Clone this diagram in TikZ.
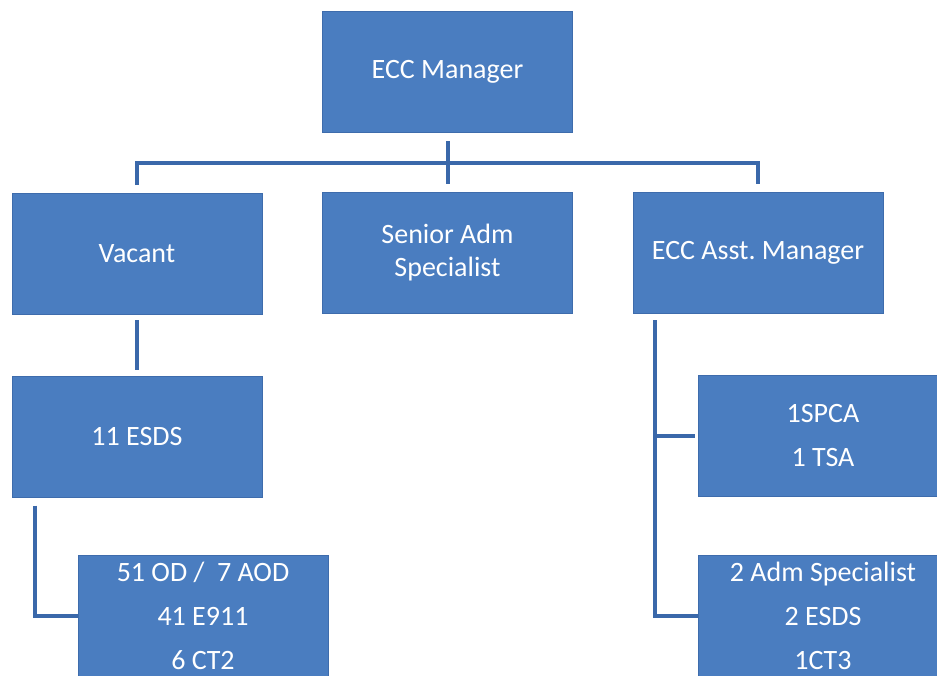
\documentclass[tikz,border=0pt]{standalone}
\usepackage{fontspec}
\setmainfont{Carlito}
\definecolor{boxblue}{RGB}{74,125,192}
\definecolor{boxedge}{RGB}{62,108,172}
\definecolor{linkblue}{RGB}{58,104,170}
\tikzset{
  post/.style={draw=boxedge, line width=1pt, fill=boxblue, text=white,
    minimum width=250pt, minimum height=121pt, inner sep=0pt, align=center,
    font=\fontsize{28}{33}\selectfont},
  widepost/.style={post, font=\fontsize{28}{44}\selectfont},
  link/.style={draw=linkblue, line width=4pt}
}
\begin{document}
\begin{tikzpicture}[x=1pt,y=-1pt]
  \useasboundingbox (0,0) rectangle (937,675);
  \clip (0,0) rectangle (937,675);
  % boxes
  \node[post] (mgr) at (447.5,72) {ECC Manager};
  \node[post] (vac) at (137,254) {Vacant};
  \node[post] (spec) at (447.5,253) {Senior Adm\\Specialist};
  \node[post] (asst) at (758,253) {ECC Asst.\ Manager};
  \node[post] (esds) at (137,436.5) {11 ESDS};
  \node[widepost] (od) at (203,616) {51 OD /\ \ 7 AOD\\41 E911\\6 CT2};
  \node[widepost] (spca) at (823,436) {1SPCA\\1 TSA};
  \node[widepost] (adm) at (823,616) {2 Adm Specialist\\2 ESDS\\1CT3};
  % top level
  \coordinate (bar) at (447.5,163);
  \draw[link] ([yshift=-8pt]mgr.south) -- ([yshift=8pt]spec.north);
  \draw[link] ([yshift=8pt]vac.north) |- (bar) -| ([yshift=8pt]asst.north);
  % left branch
  \draw[link] ([yshift=-5pt]vac.south) -- ([yshift=6pt]esds.north);
  \draw[link] ([xshift=23pt,yshift=-8pt]esds.south west) |- (od.west);
  % right branch
  \coordinate (trunk) at ([xshift=22pt,yshift=-6pt]asst.south west);
  \draw[link] (trunk) |- (adm.west);
  \draw[link] (spca.west -| trunk) -- ([xshift=-3pt]spca.west);
\end{tikzpicture}
\end{document}
